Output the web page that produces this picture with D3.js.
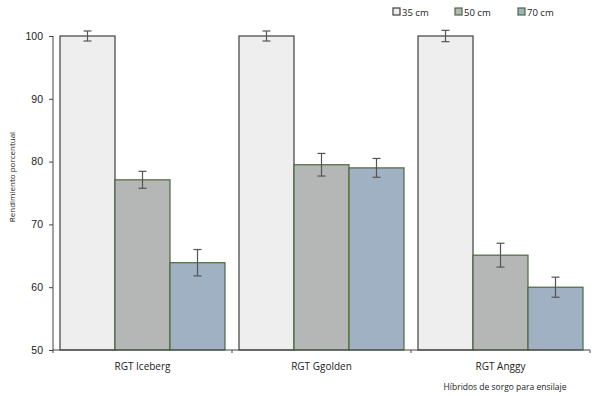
<!DOCTYPE html>
<head>
  <meta charset="utf-8" />
  <script src="https://d3js.org/d3.v7.min.js"></script>
  <style>
    body { margin: 0; background: #fff; }
    svg { font-family: "Open Sans", "Liberation Sans", sans-serif; }
  </style>
</head>
<body>
  <svg width="600" height="396"></svg>
  <script>
    var hybrids = ["RGT Iceberg", "RGT Ggolden", "RGT Anggy"];
    var heights = ["35 cm", "50 cm", "70 cm"];
    var val35 = [100, 100, 100];
    var val50 = [77.1, 79.5, 65.1];
    var val70 = [63.9, 79.0, 60.0];
    var err35 = [0.8, 0.8, 0.9];
    var err50 = [1.35, 1.8, 1.9];
    var err70 = [2.1, 1.5, 1.6];
    var yTicks = [50, 60, 70, 80, 90, 100];

    var fills = ["#eeeeee", "#b4b7b6", "#9fb1c3"];
    var strokes = ["#3f3f3f", "#4c6a3c", "#4c6a3c"];

    var svg = d3.select("svg");
    var x0 = d3.scaleBand().domain(hybrids).range([53, 590]).paddingInner(0).paddingOuter(0);
    var x1 = d3.scaleBand().domain(heights).range([7, x0.bandwidth() - 7]);
    var y = d3.scaleLinear().domain([50, 100]).range([350, 36]);

    var rows = [];
    hybrids.forEach(function (h, i) {
      rows.push({ h: h, k: 0, v: val35[i], e: err35[i] });
      rows.push({ h: h, k: 1, v: val50[i], e: err50[i] });
      rows.push({ h: h, k: 2, v: val70[i], e: err70[i] });
    });

    svg.selectAll("rect.bar").data(rows).enter().append("rect")
      .attr("class", "bar")
      .attr("x", function (d) { return x0(d.h) + x1(heights[d.k]); })
      .attr("y", function (d) { return y(d.v); })
      .attr("width", x1.bandwidth())
      .attr("height", function (d) { return y(50) - y(d.v); })
      .attr("fill", function (d) { return fills[d.k]; })
      .attr("stroke", function (d) { return strokes[d.k]; })
      .attr("stroke-width", 1.2);

    // error bars
    var eb = svg.selectAll("g.err").data(rows).enter().append("g")
      .attr("class", "err")
      .attr("stroke", "#555")
      .attr("stroke-width", 1.2);
    function cx(d) { return x0(d.h) + x1(heights[d.k]) + x1.bandwidth() / 2; }
    eb.append("line")
      .attr("x1", cx).attr("x2", cx)
      .attr("y1", function (d) { return y(d.v + d.e); })
      .attr("y2", function (d) { return y(d.v - d.e); });
    eb.append("line")
      .attr("x1", function (d) { return cx(d) - 4; }).attr("x2", function (d) { return cx(d) + 4; })
      .attr("y1", function (d) { return y(d.v + d.e); })
      .attr("y2", function (d) { return y(d.v + d.e); });
    eb.append("line")
      .attr("x1", function (d) { return cx(d) - 4; }).attr("x2", function (d) { return cx(d) + 4; })
      .attr("y1", function (d) { return y(d.v - d.e); })
      .attr("y2", function (d) { return y(d.v - d.e); });

    // y axis
    var yAxis = svg.append("g").attr("transform", "translate(53,0)")
      .call(d3.axisLeft(y).tickValues(yTicks).tickSize(4).tickPadding(6));
    yAxis.selectAll("path, line").attr("stroke", "#444");
    yAxis.selectAll("text").attr("font-size", 10.5).attr("fill", "#222");
    yAxis.select(".domain").attr("d", "M0," + y(50) + "V" + y(100));

    // x axis
    var xAxis = svg.append("g").attr("transform", "translate(0," + y(50) + ")");
    xAxis.append("line").attr("x1", 53).attr("x2", 590).attr("y1", 0).attr("y2", 0)
      .attr("stroke", "#444");
    xAxis.selectAll("line.tk").data([53].concat(hybrids.map(function (h) { return x0(h) + x0.bandwidth(); })))
      .enter().append("line").attr("class", "tk")
      .attr("x1", function (d) { return d; }).attr("x2", function (d) { return d; })
      .attr("y1", 0).attr("y2", 3).attr("stroke", "#444");
    xAxis.selectAll("text").data(hybrids).enter().append("text")
      .attr("x", function (h) { return x0(h) + x0.bandwidth() / 2; })
      .attr("y", 20)
      .attr("text-anchor", "middle")
      .attr("font-size", 10)
      .attr("fill", "#222")
      .text(function (h) { return h; });

    // axis titles
    svg.append("text")
      .attr("transform", "translate(15,177) rotate(-90)")
      .attr("text-anchor", "middle")
      .attr("font-size", 8)
      .attr("fill", "#222")
      .text("Rendimiento porcentual");
    svg.append("text")
      .attr("x", 505).attr("y", 390)
      .attr("text-anchor", "middle")
      .attr("font-size", 8.5)
      .attr("fill", "#222")
      .text("Híbridos de sorgo para ensilaje");

    // legend
    var legX = [393, 455, 518];
    var leg = svg.selectAll("g.leg").data(heights).enter().append("g")
      .attr("class", "leg")
      .attr("transform", function (d, i) { return "translate(" + legX[i] + ",8)"; });
    leg.append("rect").attr("width", 7).attr("height", 7)
      .attr("fill", function (d, i) { return fills[i]; })
      .attr("stroke", function (d, i) { return strokes[i]; })
      .attr("stroke-width", 1.2);
    leg.append("text").attr("x", 9).attr("y", 7.5)
      .attr("font-size", 9.5).attr("fill", "#222")
      .text(function (d) { return d; });
  </script>
</body>
